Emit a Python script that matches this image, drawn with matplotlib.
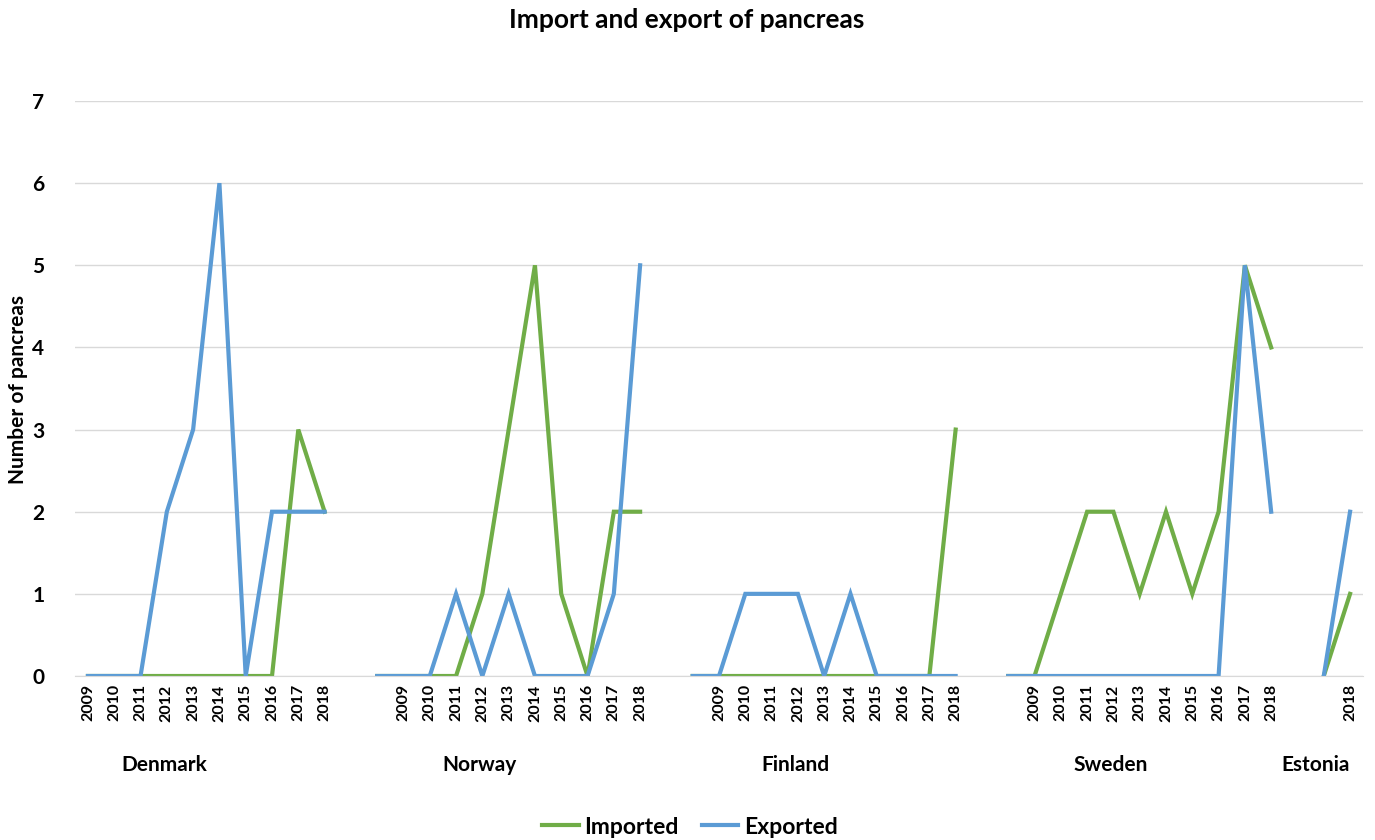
import numpy as np
import matplotlib
matplotlib.use("Agg")
import matplotlib.pyplot as plt
from matplotlib.lines import Line2D

plt.rcParams['font.family'] = ['Lato', 'DejaVu Sans']

# ---- data ----
countries = ["Denmark", "Norway", "Finland", "Sweden", "Estonia"]
country_label_pos = [2.9, 14.9, 26.9, 38.9, 46.7]

years = [str(y) for y in range(2009, 2019)]
tick_labels = (years + ["", ""] + years + ["", ""] + years + ["", ""]
               + years + ["", "", "2018"])

N = None
imported = ([0, 0, 0, 0, 0, 0, 0, 0, 3, 2] + [N]
            + [0, 0, 0, 0, 1, 3, 5, 1, 0, 2, 2] + [N]
            + [0, 0, 0, 0, 0, 0, 0, 0, 0, 0, 3] + [N]
            + [0, 0, 1, 2, 2, 1, 2, 1, 2, 5, 4] + [N]
            + [0, 1])
exported = ([0, 0, 0, 2, 3, 6, 0, 2, 2, 2] + [N]
            + [0, 0, 0, 1, 0, 1, 0, 0, 0, 1, 5] + [N]
            + [0, 0, 1, 1, 1, 0, 1, 0, 0, 0, 0] + [N]
            + [0, 0, 0, 0, 0, 0, 0, 0, 0, 5, 2] + [N]
            + [0, 2])

green = "#70AD47"
blue = "#5B9BD5"

imp = np.array([np.nan if v is None else v for v in imported], dtype=float)
exp_ = np.array([np.nan if v is None else v for v in exported], dtype=float)
x = np.arange(len(tick_labels))

fig = plt.figure(figsize=(13.75, 8.4), dpi=100)
ax = fig.add_axes([74.8 / 1375, 1 - 676 / 840, (1363.2 - 74.8) / 1375, (676 - 101) / 840])

ax.plot(x, imp, color=green, lw=3, solid_joinstyle='miter', label="Imported")
ax.plot(x, exp_, color=blue, lw=3, solid_joinstyle='miter', label="Exported")

ax.set_xlim(-0.5, len(tick_labels) - 0.5)
ax.set_ylim(0, 7)
ax.set_yticks(range(0, 8))
ax.set_yticklabels([str(i) for i in range(0, 8)], fontsize=15, fontweight='bold')
ax.tick_params(axis='y', length=0, pad=22)
ax.grid(axis='y', color='#D9D9D9', lw=1)
ax.set_axisbelow(True)
for s in ['top', 'right', 'left']:
    ax.spines[s].set_visible(False)
ax.spines['bottom'].set_color('#D9D9D9')

ax.set_xticks(x)
ax.set_xticklabels(tick_labels, rotation=90, fontsize=11.5, fontweight='bold')
ax.tick_params(axis='x', length=0, pad=6)

for name, pos in zip(countries, country_label_pos):
    ax.text(pos, -1.08, name, ha='center', va='center', fontsize=15,
            fontweight='bold', transform=ax.transData)

fig.text(18 / 1375, 1 - 390 / 840, "Number of pancreas", rotation=90, ha='center', va='center',
         fontsize=15, fontweight='bold')

fig.text(687 / 1375, 1 - 20 / 840, "Import and export of pancreas", ha='center', va='center',
         fontsize=19, fontweight='bold')

handles = [Line2D([0], [0], color=green, lw=3), Line2D([0], [0], color=blue, lw=3)]
fig.legend(handles, ["Imported", "Exported"], loc='center', bbox_to_anchor=(690 / 1375, 1 - 827 / 840),
           ncol=2, frameon=False, prop={'size': 16.5, 'weight': 'bold'}, handlelength=1.6,
           handletextpad=0.25, columnspacing=1.0)

fig.savefig("out.png", dpi=100)
